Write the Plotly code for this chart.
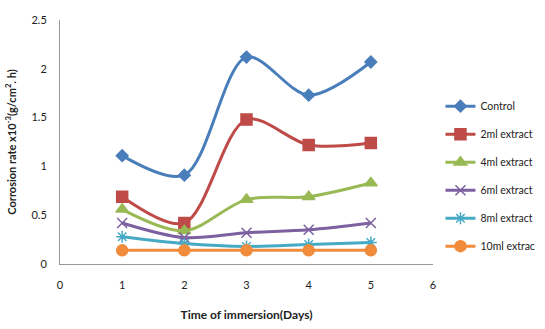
import plotly.graph_objects as go

days = [1, 2, 3, 4, 5]
series_names = ["Control", "2ml extract", "4ml extract", "6ml extract", "8ml extract", "10ml extrac"]
control = [1.11, 0.91, 2.12, 1.73, 2.07]
ml2 = [0.69, 0.42, 1.48, 1.22, 1.24]
ml4 = [0.56, 0.34, 0.66, 0.69, 0.83]
ml6 = [0.42, 0.27, 0.32, 0.35, 0.42]
ml8 = [0.28, 0.21, 0.18, 0.20, 0.22]
ml10 = [0.14, 0.14, 0.14, 0.14, 0.14]
x_ticks = [0, 1, 2, 3, 4, 5, 6]
y_ticks = [0, 0.5, 1, 1.5, 2, 2.5]

values = [control, ml2, ml4, ml6, ml8, ml10]
colors = ["#4A7EBB", "#BE4B48", "#98B954", "#7D60A0", "#46AAC5", "#F08C3C"]
symbols = ["diamond", "square", "triangle-up", "x-thin", "asterisk", "circle"]
sizes = [9, 11, 11, 10, 10, 11]

fig = go.Figure()
for name, vals, c, s, sz, i in zip(series_names, values, colors, symbols, sizes, range(6)):
    fig.add_trace(go.Scatter(
        x=days, y=vals, name=name, mode="lines+markers",
        line=dict(color=c, width=3, shape="spline", smoothing=0.9),
        marker=dict(symbol=s, size=sz, color=c, line=dict(color=c, width=1.5)),
        legendgroup=str(i),
    ))

fig.update_layout(
    width=545, height=329,
    margin=dict(l=60, r=112, t=20, b=65, autoexpand=False),
    paper_bgcolor="white", plot_bgcolor="white",
    font=dict(family="Lato, Open Sans, sans-serif", size=11, color="#222"),
    showlegend=True,
    legend=dict(x=1.02, y=0.36, yanchor="middle", xanchor="left",
                font=dict(size=10.5, color="#222"), tracegroupgap=9,
                bgcolor="rgba(0,0,0,0)", itemwidth=30),
    xaxis=dict(range=[0, 6], tickvals=x_ticks, showgrid=False, zeroline=False,
               showline=True, linecolor="#999", linewidth=1, automargin=False,
               ticks="outside", ticklen=11, tickcolor="rgba(0,0,0,0)",
               title=dict(text="<b>Time of immersion(Days)</b>", font=dict(size=12), standoff=20)),
    yaxis=dict(range=[0, 2.5], tickvals=y_ticks, showgrid=False, zeroline=False,
               showline=True, linecolor="#999", linewidth=1, automargin=False,
               ticks="outside", ticklen=10, tickcolor="rgba(0,0,0,0)",
               title=dict(text="<b>Corrosion rate x10<sup>-3</sup>(g/cm<sup>2</sup>. h)</b>", font=dict(size=11), standoff=12)),
)

fig.write_html("out.html", config={"displayModeBar": False},
               post_script="document.body.style.margin='0';")
